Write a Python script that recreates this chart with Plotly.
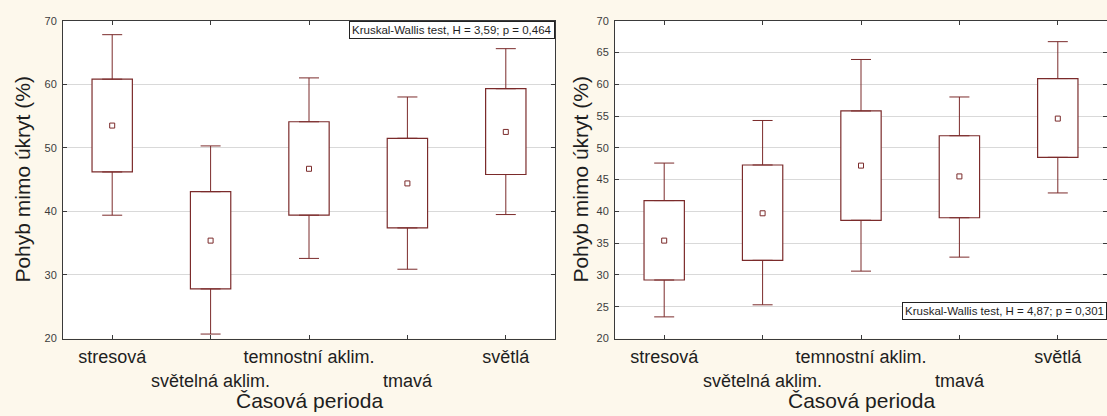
import plotly.graph_objects as go

# Categories (time periods) and their axis labels (every second one pushed to a second row)
periods = ["stresová", "světelná aklim.", "temnostní aklim.", "tmavá", "světlá"]
period_ticks = ["stresová", "<br>světelná aklim.", "temnostní aklim.", "<br>tmavá", "světlá"]

# Left panel: mean, box (lower / upper) and whisker (lower / upper) values
a_mean = [53.5, 35.4, 46.7, 44.4, 52.5]
a_box_lo = [46.2, 27.8, 39.4, 37.4, 45.8]
a_box_hi = [60.8, 43.1, 54.1, 51.5, 59.3]
a_wh_lo = [39.4, 20.7, 32.6, 30.9, 39.5]
a_wh_hi = [67.8, 50.3, 61.0, 58.0, 65.6]
a_test = "Kruskal-Wallis test, H = 3,59; p = 0,464"

# Right panel
b_mean = [35.4, 39.7, 47.2, 45.5, 54.6]
b_box_lo = [29.2, 32.3, 38.6, 39.0, 48.5]
b_box_hi = [41.7, 47.3, 55.8, 51.9, 60.9]
b_wh_lo = [23.4, 25.3, 30.6, 32.8, 42.9]
b_wh_hi = [47.6, 54.3, 63.9, 58.0, 66.7]
b_test = "Kruskal-Wallis test, H = 4,87; p = 0,301"

y_title = "Pohyb mimo úkryt (%)"
x_title = "Časová perioda"

W, H = 1107, 416
MAROON = "#7b2b2b"
FONT = "Liberation Sans, Arial, sans-serif"


def px_x(p):
    return p / W


def px_y(p):
    return 1 - p / H


fig = go.Figure()


def add_panel(xa, ya, mean, box_lo, box_hi, wh_lo, wh_hi):
    # box body
    fig.add_trace(go.Bar(
        x=periods, base=box_lo, y=[h - l for h, l in zip(box_hi, box_lo)],
        width=0.41, marker=dict(color="white", line=dict(color=MAROON, width=1.2)),
        xaxis=xa, yaxis=ya, showlegend=False, hoverinfo="skip",
    ))
    # upper whiskers
    fig.add_trace(go.Scatter(
        x=periods, y=box_hi, mode="markers", marker=dict(size=1, opacity=0),
        error_y=dict(type="data", symmetric=False,
                     array=[w - b for w, b in zip(wh_hi, box_hi)],
                     arrayminus=[0] * len(box_hi),
                     color=MAROON, thickness=1, width=10),
        xaxis=xa, yaxis=ya, showlegend=False, hoverinfo="skip",
    ))
    # lower whiskers
    fig.add_trace(go.Scatter(
        x=periods, y=box_lo, mode="markers", marker=dict(size=1, opacity=0),
        error_y=dict(type="data", symmetric=False,
                     array=[0] * len(box_lo),
                     arrayminus=[b - w for b, w in zip(box_lo, wh_lo)],
                     color=MAROON, thickness=1, width=10),
        xaxis=xa, yaxis=ya, showlegend=False, hoverinfo="skip",
    ))
    # mean markers
    fig.add_trace(go.Scatter(
        x=periods, y=mean, mode="markers",
        marker=dict(symbol="square", size=5, color="white",
                    line=dict(color=MAROON, width=1)),
        xaxis=xa, yaxis=ya, showlegend=False,
    ))


add_panel("x", "y", a_mean, a_box_lo, a_box_hi, a_wh_lo, a_wh_hi)
add_panel("x2", "y2", b_mean, b_box_lo, b_box_hi, b_wh_lo, b_wh_hi)

y_dom = [px_y(338.5), px_y(20.7)]

xaxis_common = dict(
    type="category", range=[-0.5, 4.5],
    tickmode="array", tickvals=periods, ticktext=period_ticks, tickangle=0,
    ticks="inside", ticklen=4, tickcolor="#3a3a3a",
    showline=True, linecolor="#3a3a3a", linewidth=1, mirror="ticks",
    showgrid=False, zeroline=False, automargin=False,
    tickfont=dict(family=FONT, size=18, color="#1e1e1e"),
    ticklabelstandoff=2,
)
yaxis_common = dict(
    range=[20, 70], ticks="inside", ticklen=4, tickcolor="#3a3a3a",
    showline=True, linecolor="#3a3a3a", linewidth=1, mirror="ticks",
    showgrid=True, gridcolor="#d9d9d9", gridwidth=1, zeroline=False,
    automargin=False,
    tickfont=dict(family=FONT, size=11, color="#3c3c3c"),
    ticklabelstandoff=3, domain=y_dom,
)

fig.update_layout(
    width=W, height=H,
    margin=dict(l=0, r=0, t=0, b=0),
    paper_bgcolor="#fdf8ec", plot_bgcolor="white",
    barmode="overlay", showlegend=False,
    xaxis=dict(**xaxis_common, domain=[px_x(63), px_x(555)], anchor="y"),
    xaxis2=dict(**xaxis_common, domain=[px_x(615), 1.0], anchor="y2"),
    yaxis=dict(**yaxis_common, dtick=10, anchor="x"),
    yaxis2=dict(**yaxis_common, dtick=5, anchor="x2"),
)

annotations = []
# axis titles
for cx in (23, 581):
    annotations.append(dict(
        text=y_title, xref="paper", yref="paper", x=px_x(cx), y=(y_dom[0] + y_dom[1]) / 2,
        textangle=-90, showarrow=False, xanchor="center", yanchor="middle",
        font=dict(family=FONT, size=21, color="#1e1e1e"),
    ))
for cx in ((63 + 555) / 2, (615 + 1107) / 2):
    annotations.append(dict(
        text=x_title, xref="paper", yref="paper", x=px_x(cx), y=px_y(414),
        showarrow=False, xanchor="center", yanchor="bottom",
        font=dict(family=FONT, size=21, color="#1e1e1e"),
    ))
# test result boxes
annotations.append(dict(
    text=a_test, xref="paper", yref="paper", x=px_x(555), y=px_y(21),
    xanchor="right", yanchor="top", showarrow=False,
    bgcolor="white", bordercolor="#222222", borderwidth=1, borderpad=2,
    font=dict(family=FONT, size=11.5, color="#1e1e1e"),
))
annotations.append(dict(
    text=b_test, xref="paper", yref="paper", x=1.0, y=px_y(302),
    xanchor="right", yanchor="top", showarrow=False,
    bgcolor="white", bordercolor="#222222", borderwidth=1, borderpad=2,
    font=dict(family=FONT, size=11.5, color="#1e1e1e"),
))
fig.update_layout(annotations=annotations)

fig.write_html("out.html")
